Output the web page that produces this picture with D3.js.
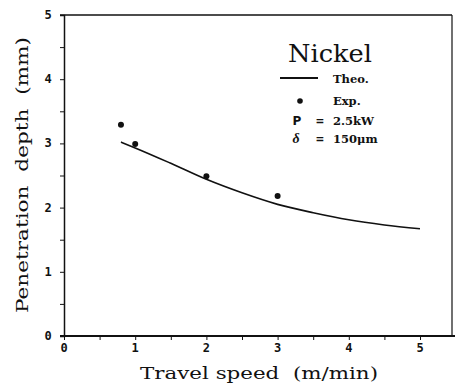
<!DOCTYPE html>
<html><head><meta charset="utf-8">
<script src="https://cdn.jsdelivr.net/npm/d3@7"></script>
<style>body{margin:0;background:#fff}svg{display:block}text{white-space:pre}</style>
</head><body>
<script>
const theoSpeed = [0.8, 1.0, 1.5, 2.0, 2.5, 3.0, 3.5, 4.0, 4.5, 5.0];
const theoDepth = [3.02, 2.93, 2.69, 2.44, 2.23, 2.05, 1.92, 1.81, 1.73, 1.67];
const expSpeed = [0.8, 1.0, 2.0, 3.0];
const expDepth = [3.29, 2.99, 2.49, 2.18];
const xTicks = [0, 1, 2, 3, 4, 5];
const yTicks = [0, 1, 2, 3, 4, 5];
const legendLabels = ["Theo.", "Exp.", "2.5kW", "150\u03BCm"];

const W = 455, H = 385;
const svg = d3.select("body").append("svg").attr("width", W).attr("height", H);
const x = d3.scaleLinear().domain([0, 5]).range([64, 420]);
const y = d3.scaleLinear().domain([0, 5]).range([336, 15]);
const ink = "#111";
const serif = "DejaVu Serif";

// frame
svg.append("line").attr("x1", 60).attr("x2", 452).attr("y1", y(5)).attr("y2", y(5)).attr("stroke", ink).attr("stroke-width", 1.6);
svg.append("line").attr("x1", 452).attr("x2", 452).attr("y1", y(5)).attr("y2", y(0)).attr("stroke", ink).attr("stroke-width", 1.2);

// x axis
const xAxis = svg.append("g").attr("transform", `translate(0,${y(0)})`)
  .call(d3.axisBottom(x).tickValues(d3.range(0, 5.01, 0.5)).tickSize(4).tickFormat(""));
xAxis.select(".domain").remove();
xAxis.selectAll("line").attr("stroke", ink);
svg.append("line").attr("x1", 60).attr("x2", 455).attr("y1", y(0)).attr("y2", y(0)).attr("stroke", ink).attr("stroke-width", 1.8);
svg.append("g").selectAll("text").data(xTicks).join("text")
  .attr("x", d => x(d)).attr("y", 352).attr("text-anchor", "middle")
  .attr("font-family", "DejaVu Sans Mono").attr("font-weight", "bold").attr("font-size", 12).attr("fill", ink)
  .text(d => d);

// y axis
const yAxis = svg.append("g").attr("transform", `translate(${x(0)},0)`)
  .call(d3.axisLeft(y).tickValues(d3.range(0, 5.01, 0.5)).tickSize(4).tickFormat(""));
yAxis.select(".domain").attr("stroke", ink).attr("stroke-width", 1.5);
yAxis.selectAll("line").attr("stroke", ink);
svg.append("g").selectAll("text").data(yTicks).join("text")
  .attr("x", 48).attr("y", d => y(d) + 4).attr("text-anchor", "middle")
  .attr("font-family", "DejaVu Sans Mono").attr("font-weight", "bold").attr("font-size", 12).attr("fill", ink)
  .text(d => d);

// axis titles
svg.append("text").attr("x", 140).attr("y", 379)
  .attr("textLength", 238).attr("lengthAdjust", "spacingAndGlyphs")
  .attr("font-family", serif).attr("font-size", 17).attr("fill", ink)
  .text("Travel speed  (m/min)");
svg.append("text").attr("transform", "translate(28,313) rotate(-90)")
  .attr("textLength", 276).attr("lengthAdjust", "spacingAndGlyphs")
  .attr("font-family", serif).attr("font-size", 17).attr("fill", ink)
  .text("Penetration  depth  (mm)");

// theory line
const line = d3.line().x((d, i) => x(theoSpeed[i])).y(d => y(d)).curve(d3.curveMonotoneX);
svg.append("path").datum(theoDepth).attr("d", line).attr("fill", "none").attr("stroke", ink).attr("stroke-width", 1.6);

// experimental points
svg.append("g").selectAll("circle").data(expDepth).join("circle")
  .attr("cx", (d, i) => x(expSpeed[i])).attr("cy", d => y(d)).attr("r", 3).attr("fill", ink);

// legend
const lg = svg.append("g").attr("fill", ink);
lg.append("text").attr("x", 288).attr("y", 62)
  .attr("textLength", 84).attr("lengthAdjust", "spacingAndGlyphs")
  .attr("font-family", serif).attr("font-size", 24).text("Nickel");
lg.append("line").attr("x1", 280).attr("x2", 318).attr("y1", 78).attr("y2", 78).attr("stroke", ink).attr("stroke-width", 1.8);
lg.append("circle").attr("cx", 300).attr("cy", 101).attr("r", 2.8);
const rows = [83, 105, 125, 143];
lg.selectAll("text.lab").data(legendLabels).join("text").attr("class", "lab")
  .attr("x", 333).attr("y", (d, i) => rows[i])
  .attr("font-family", serif).attr("font-weight", "bold").attr("font-size", 11.5).text(d => d);
lg.append("text").attr("x", 297).attr("y", 125).attr("text-anchor", "middle")
  .attr("font-family", "DejaVu Sans").attr("font-weight", "bold").attr("font-size", 12).text("P");
lg.append("text").attr("x", 296).attr("y", 143).attr("text-anchor", "middle")
  .attr("font-family", "Liberation Serif").attr("font-style", "italic").attr("font-weight", "bold").attr("font-size", 14).text("\u03B4");
lg.selectAll("text.eq").data([125, 143]).join("text").attr("class", "eq")
  .attr("x", 320).attr("y", d => d).attr("text-anchor", "middle")
  .attr("font-family", "DejaVu Sans Mono").attr("font-weight", "bold").attr("font-size", 13).text("=");
</script>
</body></html>
